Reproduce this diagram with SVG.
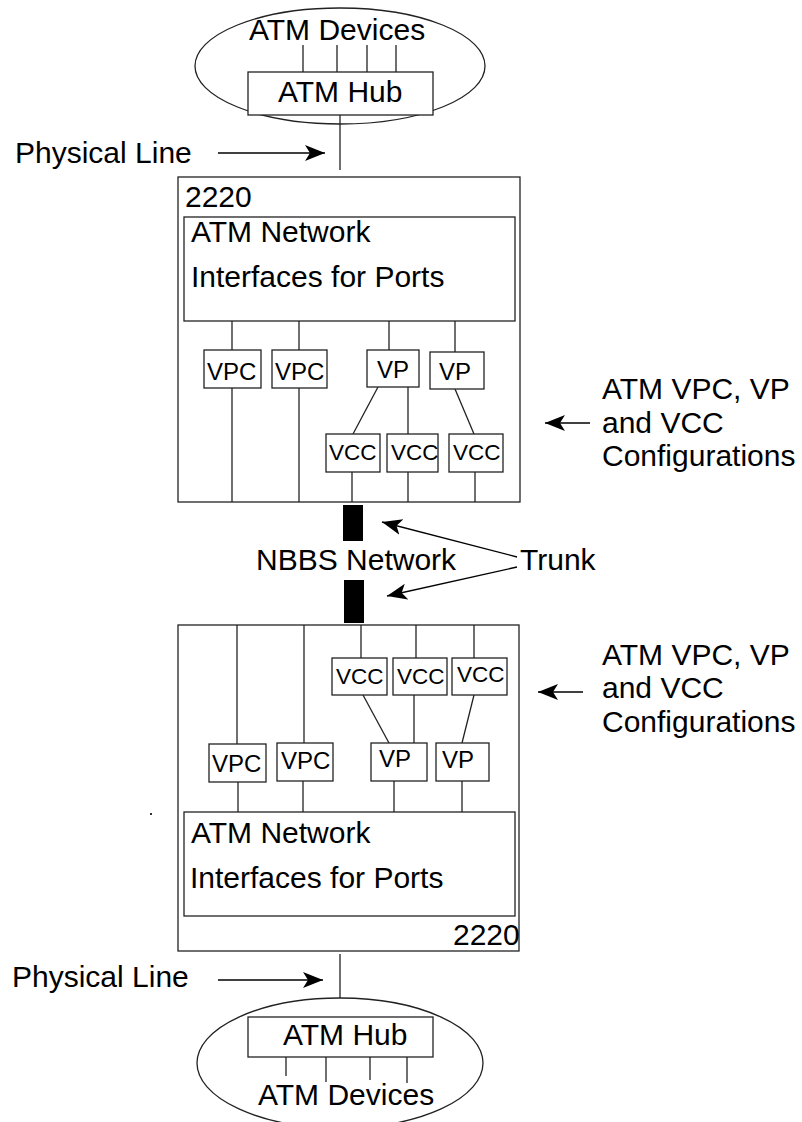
<svg xmlns="http://www.w3.org/2000/svg" width="802" height="1122" viewBox="0 0 802 1122">
<style>
text{font-family:"Liberation Sans",Arial,sans-serif;fill:#000}
.t30{font-size:30px}
.t24{font-size:24px}
.t22{font-size:22.5px}
.box{fill:#fff;stroke:#222;stroke-width:1.3}
.ln{stroke:#222;stroke-width:1.3;fill:none}
.arr{stroke:#000;stroke-width:1.3;fill:none;marker-end:url(#ah)}
</style>
<defs>
<marker id="ah" markerUnits="userSpaceOnUse" markerWidth="22" markerHeight="18" refX="20" refY="8" orient="auto" viewBox="0 0 22 18">
<path d="M0,0 L20,8 L0,16 L5,8 z" fill="#000"/>
</marker>
</defs>
<rect width="802" height="1122" fill="#fff"/>

<g id="top-site">
<ellipse cx="340" cy="66" rx="145" ry="58" class="box"/>
<text class="t30" x="249" y="40">ATM Devices</text>
<line class="ln" x1="303" y1="45" x2="303" y2="72"/>
<line class="ln" x1="337" y1="45" x2="337" y2="72"/>
<line class="ln" x1="367" y1="45" x2="367" y2="72"/>
<line class="ln" x1="396" y1="45" x2="396" y2="72"/>
<rect class="box" x="248" y="72" width="185" height="43"/>
<text class="t30" x="278" y="102">ATM Hub</text>
</g>

<g id="top-2220">
<rect class="box" x="178" y="177" width="342" height="325"/>
<text class="t30" x="185" y="207">2220</text>
<rect class="box" x="184" y="217" width="331" height="104"/>
<text class="t30" x="191" y="242">ATM Network</text>
<text class="t30" x="191" y="287">Interfaces for Ports</text>
</g>

<g id="bottom-2220">
<rect class="box" x="178" y="625" width="341" height="326"/>
<rect class="box" x="184" y="812" width="331" height="104"/>
<text class="t30" x="191" y="843">ATM Network</text>
<text class="t30" x="190" y="888">Interfaces for Ports</text>
<text class="t30" x="453" y="945">2220</text>
</g>

<g id="connectors">
<!-- top site to 2220 -->
<line class="ln" x1="340" y1="115" x2="340" y2="170"/>
<!-- top inner box to VPC/VP -->
<line class="ln" x1="232" y1="321" x2="232" y2="350"/>
<line class="ln" x1="299" y1="321" x2="299" y2="350"/>
<line class="ln" x1="389" y1="321" x2="389" y2="350"/>
<line class="ln" x1="455" y1="321" x2="455" y2="352"/>
<line class="ln" x1="232" y1="388" x2="232" y2="502"/>
<line class="ln" x1="299" y1="388" x2="299" y2="502"/>
<line class="ln" x1="378" y1="387" x2="353" y2="434"/>
<line class="ln" x1="408" y1="387" x2="408" y2="434"/>
<line class="ln" x1="455" y1="389" x2="474" y2="434"/>
<line class="ln" x1="352" y1="472" x2="352" y2="502"/>
<line class="ln" x1="408" y1="472" x2="408" y2="502"/>
<line class="ln" x1="475" y1="472" x2="475" y2="502"/>
<!-- bottom -->
<line class="ln" x1="237" y1="625" x2="237" y2="744"/>
<line class="ln" x1="304" y1="625" x2="304" y2="743"/>
<line class="ln" x1="361" y1="625" x2="361" y2="658"/>
<line class="ln" x1="416" y1="625" x2="416" y2="658"/>
<line class="ln" x1="474" y1="625" x2="474" y2="658"/>
<line class="ln" x1="363" y1="695" x2="389" y2="743"/>
<line class="ln" x1="414" y1="695" x2="414" y2="743"/>
<line class="ln" x1="474" y1="695" x2="462" y2="743"/>
<line class="ln" x1="238" y1="782" x2="238" y2="812"/>
<line class="ln" x1="303" y1="781" x2="303" y2="812"/>
<line class="ln" x1="394" y1="781" x2="394" y2="812"/>
<line class="ln" x1="462" y1="781" x2="462" y2="812"/>
<!-- bottom 2220 to bottom site -->
<line class="ln" x1="340" y1="954" x2="340" y2="1017"/>
<!-- annotation arrows -->
<line class="arr" x1="218" y1="153" x2="325" y2="153"/>
<line class="arr" x1="218" y1="980" x2="323" y2="980"/>
<line class="arr" x1="590" y1="423" x2="545" y2="423"/>
<line class="arr" x1="583" y1="692" x2="538" y2="692"/>
<line class="arr" x1="517" y1="557" x2="382" y2="522"/>
<line class="arr" x1="517" y1="567" x2="387" y2="596"/>
</g>

<g id="top-vpc1"><rect class="box" x="204" y="350" width="57" height="38"/><text class="t24" x="207" y="380">VPC</text></g>
<g id="top-vpc2"><rect class="box" x="272" y="350" width="55" height="38"/><text class="t24" x="275" y="380">VPC</text></g>
<g id="top-vp1"><rect class="box" x="367" y="350" width="52" height="37"/><text class="t24" x="377" y="378">VP</text></g>
<g id="top-vp2"><rect class="box" x="430" y="352" width="54" height="37"/><text class="t24" x="439" y="380">VP</text></g>
<g id="top-vcc1"><rect class="box" x="326" y="434" width="54" height="38"/><text class="t22" x="329" y="460">VCC</text></g>
<g id="top-vcc2"><rect class="box" x="387" y="434" width="51" height="38"/><text class="t22" x="391" y="460">VCC</text></g>
<g id="top-vcc3"><rect class="box" x="449" y="434" width="54" height="38"/><text class="t22" x="453" y="460">VCC</text></g>

<g id="bot-vcc1"><rect class="box" x="332" y="658" width="55" height="37"/><text class="t22" x="336" y="684">VCC</text></g>
<g id="bot-vcc2"><rect class="box" x="393" y="658" width="54" height="37"/><text class="t22" x="397" y="684">VCC</text></g>
<g id="bot-vcc3"><rect class="box" x="452" y="658" width="55" height="37"/><text class="t22" x="457" y="682">VCC</text></g>
<g id="bot-vpc1"><rect class="box" x="209" y="744" width="57" height="38"/><text class="t24" x="212" y="772">VPC</text></g>
<g id="bot-vpc2"><rect class="box" x="277" y="743" width="56" height="38"/><text class="t24" x="281" y="769">VPC</text></g>
<g id="bot-vp1"><rect class="box" x="371" y="743" width="56" height="38"/><text class="t24" x="379" y="767">VP</text></g>
<g id="bot-vp2"><rect class="box" x="436" y="743" width="53" height="38"/><text class="t24" x="442" y="768">VP</text></g>

<g id="trunk">
<rect x="343" y="505" width="20" height="36" fill="#000"/>
<rect x="344" y="580" width="20" height="43" fill="#000"/>
<text class="t30" x="256" y="570">NBBS Network</text>
<text class="t30" x="520" y="570">Trunk</text>
</g>

<g id="bottom-site">
<ellipse cx="340" cy="1063" rx="143" ry="65" class="box"/>
<rect class="box" x="248" y="1017" width="185" height="40"/>
<text class="t30" x="283" y="1045">ATM Hub</text>
<line class="ln" x1="286" y1="1057" x2="286" y2="1076"/>
<line class="ln" x1="326" y1="1057" x2="326" y2="1082"/>
<line class="ln" x1="370" y1="1057" x2="370" y2="1080"/>
<line class="ln" x1="407" y1="1057" x2="407" y2="1083"/>
<text class="t30" x="258" y="1105">ATM Devices</text>
</g>

<g id="labels">
<text class="t30" x="15" y="163">Physical Line</text>
<text class="t30" x="12" y="987">Physical Line</text>
<text class="t30" x="602" y="399">ATM VPC, VP</text>
<text class="t30" x="602" y="433">and VCC</text>
<text class="t30" x="602" y="466">Configurations</text>
<text class="t30" x="602" y="665">ATM VPC, VP</text>
<text class="t30" x="602" y="698">and VCC</text>
<text class="t30" x="602" y="732">Configurations</text>
</g>
<rect x="150" y="813" width="2" height="2" fill="#333"/>
</svg>
